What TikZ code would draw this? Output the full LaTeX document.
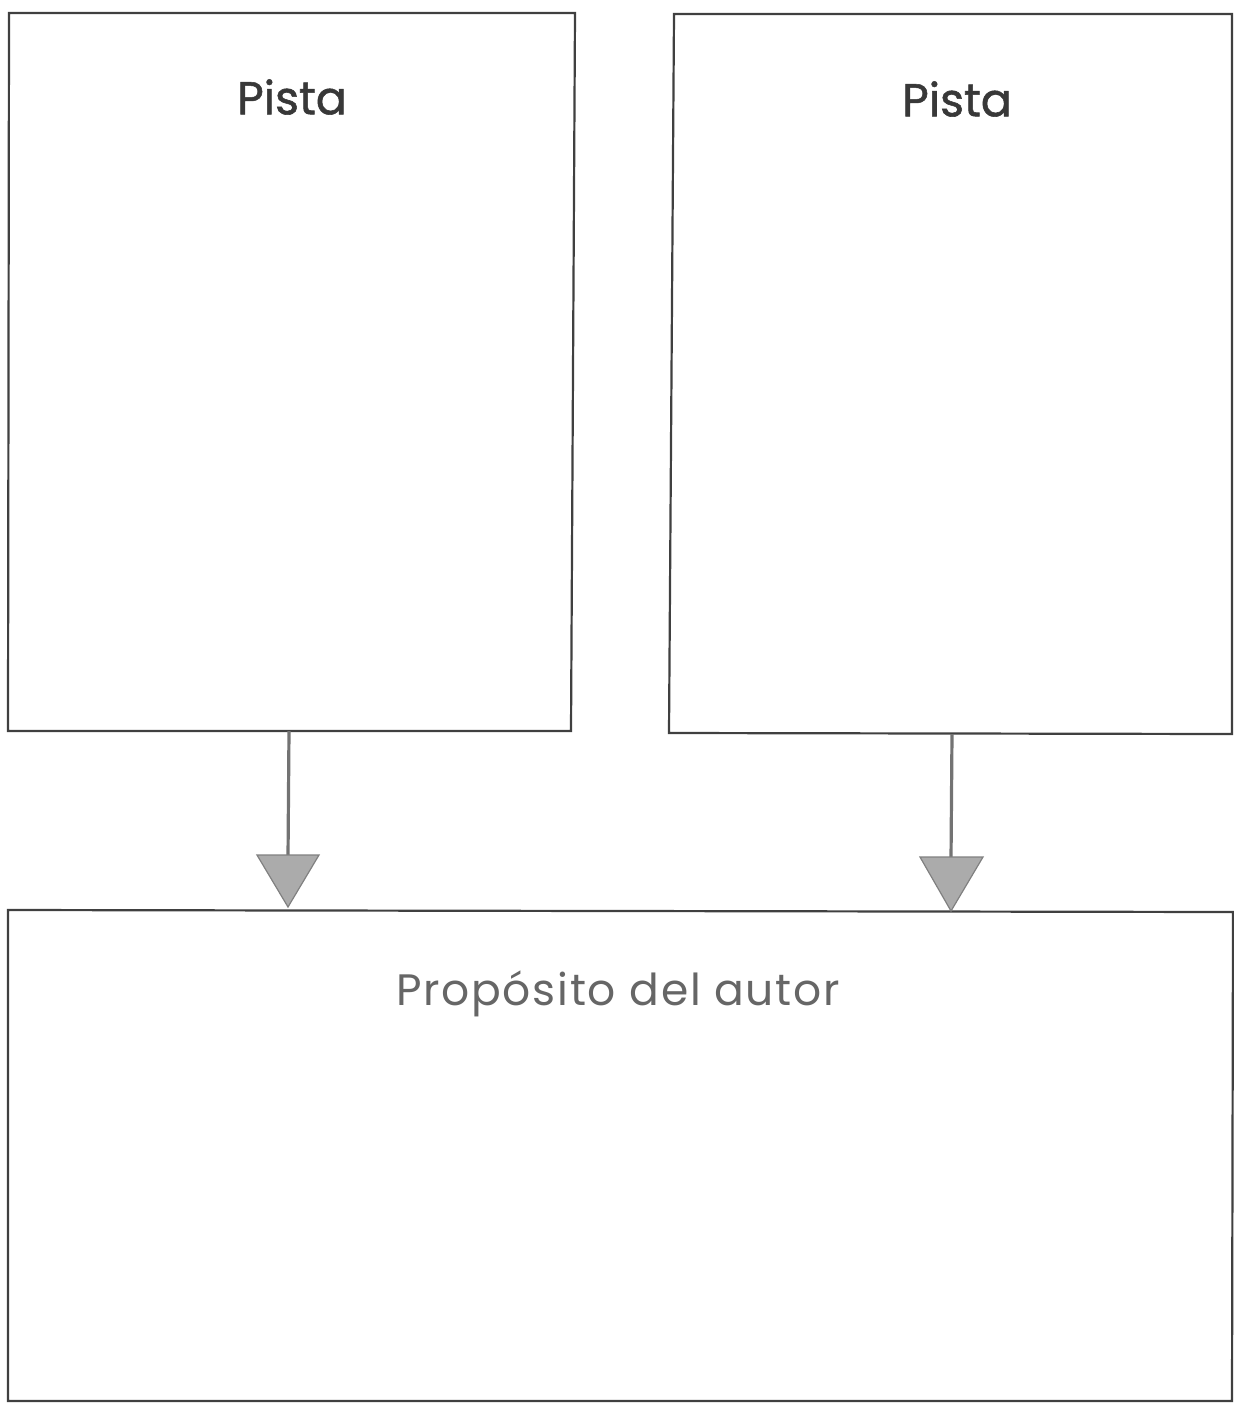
\documentclass[tikz,border=0pt]{standalone}
\usepackage{fontspec}
\setmainfont{Poppins}
\newfontfamily\propfont[LetterSpace=4]{Poppins}
\newfontfamily\pistafont[FakeBold=1.2]{Poppins}
\begin{document}
\begin{tikzpicture}[x=0.5pt,y=-0.5pt,
  boxline/.style={draw=black!75, line width=1.1pt},
  shaft/.style={draw=black!55, line width=1.6pt},
  tri/.style={draw=black!50, fill=black!33, line width=0.6pt},
  title/.style={text=black!78, font=\pistafont\fontsize{23}{27}\selectfont},
  ptitle/.style={text=black!60, font=\propfont\fontsize{22}{26}\selectfont}]
\useasboundingbox (0,0) rectangle (1234,1403);
% boxes
\draw[boxline] (9,13) -- (575,13) -- (571,731) -- (8,731) -- cycle;
\draw[boxline] (674,14) -- (1232,14) -- (1232,734) -- (669,733) -- cycle;
\draw[boxline] (8,910) -- (1233,912) -- (1232,1401) -- (8,1401) -- cycle;
\coordinate (lb) at (289,731);
\coordinate (rb) at (952,734);
\coordinate (ltip) at (288,907);
\coordinate (rtip) at (951,911);
% titles
\node[title] (p1) at (292,97) {Pista};
\node[title] (p2) at (957,99) {Pista};
\node[ptitle] (pa) at (618,994) {Propósito del autor};
% arrows
\draw[shaft] (lb) -- (288,858);
\draw[tri] (257,855) -- (319,855) -- (ltip) -- cycle;
\draw[shaft] (rb) -- (951,860);
\draw[tri] (920,857) -- (983,857) -- (rtip) -- cycle;
\end{tikzpicture}
\end{document}
